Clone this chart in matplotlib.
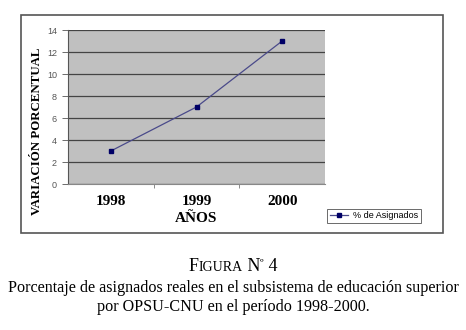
import matplotlib
matplotlib.use("Agg")
import matplotlib.pyplot as plt
from matplotlib.patches import Rectangle

# data
years = ["1998", "1999", "2000"]
pct_asignados = [3, 7, 13]
yticks = [0, 2, 4, 6, 8, 10, 12, 14]

SERIF = ["Liberation Serif", "DejaVu Serif"]
SANS = ["Liberation Sans", "DejaVu Sans"]

fig = plt.figure(figsize=(4.66, 3.30), dpi=100)
W, H = 466, 330


def fx(px):
    return px / W


def fy(py):
    return 1 - py / H


# outer chart frame
fig.patches.append(Rectangle((fx(21), fy(233)), fx(443) - fx(21), fy(15) - fy(233),
                             transform=fig.transFigure, fill=False,
                             edgecolor="#555555", linewidth=1.2))

ax = fig.add_axes([fx(68), fy(184), fx(325) - fx(68), fy(30) - fy(184)])
ax.set_facecolor("#C0C0C0")
x = list(range(len(years)))
line, = ax.plot(x, pct_asignados, color="#4A4A8A", linewidth=0.9,
                marker="s", markersize=2.5, markerfacecolor="#000066",
                markeredgecolor="#000066", label="% de Asignados")
ax.set_xlim(-0.5, len(years) - 0.5)
ax.set_ylim(0, 14)
ax.set_yticks(yticks)
ax.yaxis.grid(True, color="#444444", linewidth=0.9)
ax.set_axisbelow(True)
ax.set_yticklabels([str(v) for v in yticks], fontsize=6.5, color="#333333",
                   family=SANS)
ax.tick_params(axis="y", length=4, width=0.6, colors="#555555", pad=4)
ax.set_xticks(x)
ax.set_xticklabels(years, fontsize=11, fontweight="bold", family=SERIF)
ax.set_xticks([0.5, 1.5], minor=True)
ax.tick_params(axis="x", which="major", length=0, pad=8)
ax.tick_params(axis="x", which="minor", length=3, width=0.6, color="#777777")
for s in ["top", "right"]:
    ax.spines[s].set_visible(False)
ax.spines["left"].set_color("#555555")
ax.spines["bottom"].set_color("#888888")
ax.set_xlabel("AÑOS", fontsize=11, fontweight="bold", family=SERIF, labelpad=3)
ax.set_ylabel("VARIACIÓN PORCENTUAL", fontsize=9.3, fontweight="bold",
              family=SERIF)
ax.yaxis.set_label_coords((43 - 68) / (325 - 68), (184 - 131) / (184 - 30))

leg = fig.legend(handles=[line], loc="center", bbox_to_anchor=(fx(374), fy(216)),
                 prop={"family": SANS, "size": 6.5}, frameon=True,
                 fancybox=False, edgecolor="#444444", handlelength=2,
                 borderpad=0.3, handletextpad=0.5)
leg.get_frame().set_linewidth(0.7)

# caption: small caps "FIGURA Nº 4"
pieces = [("F", 13), ("IGURA", 10), (" N", 13), ("º", 8), (" 4", 13)]
fig.canvas.draw()
r = fig.canvas.get_renderer()
texts = []
for s, size in pieces:
    t = fig.text(0, fy(271), s, fontsize=size, family=SERIF, va="baseline")
    texts.append(t)
widths = [t.get_window_extent(r).width for t in texts]
start = W / 2 - sum(widths) / 2
for t, w, (s, size) in zip(texts, widths, pieces):
    yy = fy(265) if s == "º" else fy(271)
    t.set_position((fx(start), yy))
    start += w

fig.text(0.5, fy(288), "Porcentaje de asignados reales en el subsistema de educación superior",
         ha="center", va="center", fontsize=11.6, family=SERIF)
fig.text(0.5, fy(307), "por OPSU-CNU en el período 1998-2000.",
         ha="center", va="center", fontsize=11.6, family=SERIF)

fig.savefig("out.png", dpi=100)
